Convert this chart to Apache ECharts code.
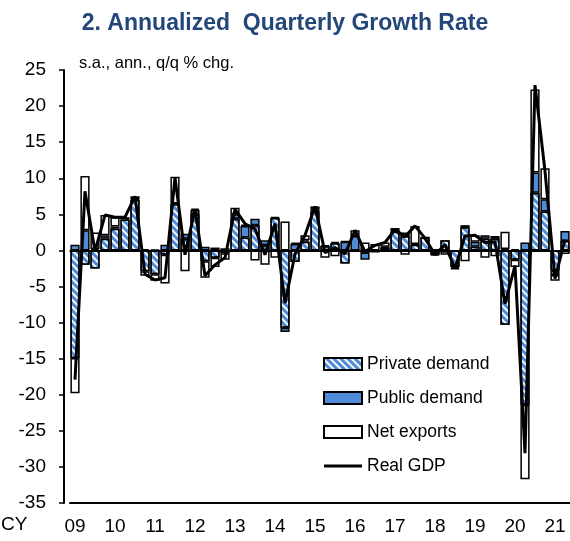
<!DOCTYPE html>
<html>
<head>
<meta charset="utf-8">
<script src="https://cdn.jsdelivr.net/npm/echarts@6/dist/echarts.min.js"></script>
<style>
  html, body { margin: 0; padding: 0; background: #fff; }
  #chart_div { width: 570px; height: 541px; }
</style>
</head>
<body>
<div id="chart_div"></div>
<script>
// ----------- 数据 -----------
var year_list = ['09', '10', '11', '12', '13', '14', '15', '16', '17', '18', '19', '20', '21']
var quarter_list = ['Q1', 'Q2', 'Q3', 'Q4']
// 2009Q1 ~ 2021Q2
var category_list = []
year_list.forEach(function (y) {
    quarter_list.forEach(function (q) {
        if (category_list.length < 50) category_list.push(y + q)
    })
})

// 民间需求
var private_demand = [
    -14.9, -2.0, -2.5, 1.6,
    3.0, 4.3, 7.0, -2.9,
    -3.3, -0.6, 6.4, 1.6,
    5.0, -1.5, -1.0, -0.4,
    4.4, 1.8, 3.5, 0.7,
    4.5, -10.7, -1.6, 1.2,
    5.4, 0.6, 1.0, -1.8,
    0.0, -0.3, -0.2, 0.4,
    2.6, 2.0, 0.8, 1.8,
    -0.6, 1.4, -2.3, 3.2,
    0.5, 1.6, 1.6, -10.3,
    -1.3, -21.4, 8.0, 5.4,
    -2.8, 1.3
]
// 公共需求
var public_demand = [
    0.8, 2.8, 0.2, 0.5,
    0.3, -0.1, 0.1, 0.2,
    0.1, 0.8, 0.1, 0.7,
    0.6, 0.5, 0.4, 0.3,
    0.6, 1.6, 0.9, 0.7,
    0.1, -0.6, 0.9, 0.2,
    0.3, 0.1, 0.2, 1.2,
    2.0, -1.0, 0.0, 0.1,
    0.1, 0.5, 0.1, 0.0,
    -0.1, -0.1, -0.2, 0.3,
    0.7, 0.5, 0.4, 0.2,
    0.2, 1.1, 2.8, 1.7,
    -0.6, 1.4
]
// 净出口
var net_exports = [
    -4.9, 7.5, 2.3, 2.8,
    1.3, 0.3, 0.4, -0.6,
    -0.9, -4.0, 3.7, -2.9,
    0.2, -2.3, -1.3, -0.9,
    0.9, 0.2, -1.4, -2.0,
    -1.0, 4.0, 0.2, 0.7,
    0.4, -1.0, -0.8, 0.1,
    0.8, 1.1, 0.9, 0.6,
    0.4, -0.6, 2.5, -0.1,
    0.2, -0.5, -0.1, -1.5,
    0.9, -1.0, -0.8, 2.4,
    -1.0, -10.3, 11.5, 4.3,
    -0.8, -0.5
]
// 实际GDP
var real_gdp = [
    -17.9, 8.2, -0.1, 4.9,
    4.6, 4.6, 7.5, -3.3,
    -4.1, -3.8, 10.1, -0.6,
    5.7, -3.5, -2.0, -1.0,
    5.7, 3.7, 3.0, -0.6,
    3.7, -7.3, -0.5, 2.1,
    6.1, -0.3, 0.4, -0.5,
    2.8, -0.2, 0.7, 1.1,
    2.9, 1.9, 3.4, 1.7,
    -0.6, 0.8, -2.5, 2.0,
    2.1, 1.1, 1.2, -7.4,
    -2.1, -28.1, 22.9, 11.0,
    -3.9, 1.5
]

// ----------- 样式 -----------
var font_name = '"Liberation Sans", Arial, sans-serif'
var bar_blue = '#4f8bd6'
var bar_border = { borderColor: '#000', borderWidth: 1.5 }

var chart = echarts.init(document.getElementById('chart_div'), null, { renderer: 'canvas' })

var option = {
    animation: false,
    backgroundColor: '#fff',
    title: [
        {
            text: '2. Annualized  Quarterly Growth Rate',
            left: 'center',
            top: 7,
            textStyle: { fontFamily: font_name, fontSize: 23, fontWeight: 'bold', color: '#24477a' }
        },
        {
            text: 's.a., ann., q/q % chg.',
            left: 74,
            top: 50,
            textStyle: { fontFamily: font_name, fontSize: 16.5, fontWeight: 'normal', color: '#000' }
        }
    ],
    graphic: [{
        type: 'text',
        left: 1,
        top: 515,
        style: { text: 'CY', fontFamily: font_name, fontSize: 19, fill: '#000' }
    }],
    legend: {
        orient: 'vertical',
        left: 318,
        top: 350,
        itemWidth: 38,
        itemHeight: 12,
        itemGap: 16,
        icon: 'rect',
        textStyle: { fontFamily: font_name, fontSize: 17.5, color: '#000' },
        data: [
            { name: 'Private demand', icon: 'rect' },
            { name: 'Public demand', icon: 'rect' },
            { name: 'Net exports', icon: 'rect' },
            { name: 'Real GDP', icon: 'path://M0,0 L38,0 L38,3 L0,3 Z', itemStyle: { color: '#000' } }
        ]
    },
    grid: { left: 70, top: 70, width: 507, height: 433 },
    xAxis: [
        {
            type: 'category',
            data: category_list,
            boundaryGap: true,
            axisLine: { onZero: false, lineStyle: { color: '#000', width: 2 } },
            axisTick: {
                inside: true,
                length: 6,
                lineStyle: { color: '#000', width: 1.5 },
                interval: function (index) { return index % 4 === 0 }
            },
            axisLabel: {
                interval: function (index) { return index % 4 === 0 },
                formatter: function (value) { return value.slice(0, 2) },
                margin: 14,
                fontFamily: font_name,
                fontSize: 19,
                color: '#000'
            },
            splitLine: { show: false }
        },
        {
            type: 'category',
            position: 'top',
            data: category_list,
            axisLine: { lineStyle: { color: '#000', width: 1.5 } },
            axisTick: { show: false },
            axisLabel: { show: false }
        }
    ],
    yAxis: {
        type: 'value',
        min: -35,
        max: 25,
        interval: 5,
        offset: 6,
        axisLine: { show: true, lineStyle: { color: '#000', width: 2 } },
        axisTick: { show: true, length: 5, lineStyle: { color: '#000', width: 1.5 } },
        axisLabel: { fontFamily: font_name, fontSize: 19, color: '#000', margin: 18 },
        splitLine: { show: false }
    },
    series: [
        {
            name: 'Private demand',
            type: 'bar',
            stack: 'gdp',
            barCategoryGap: '8%',
            data: private_demand,
            itemStyle: Object.assign({
                color: bar_blue,
                decal: {
                    symbol: 'rect',
                    color: 'rgba(255,255,255,0.95)',
                    dashArrayX: [1, 0],
                    dashArrayY: [2, 3],
                    rotation: Math.PI / 4
                }
            }, bar_border)
        },
        {
            name: 'Public demand',
            type: 'bar',
            stack: 'gdp',
            data: public_demand,
            itemStyle: Object.assign({ color: bar_blue }, bar_border)
        },
        {
            name: 'Net exports',
            type: 'bar',
            stack: 'gdp',
            data: net_exports,
            itemStyle: Object.assign({ color: '#fff' }, bar_border)
        },
        {
            name: 'Real GDP',
            type: 'line',
            data: real_gdp,
            symbol: 'none',
            z: 5,
            lineStyle: { color: '#000', width: 3 },
            itemStyle: { color: '#000' },
            markLine: {
                silent: true,
                symbol: 'none',
                label: { show: false },
                lineStyle: { color: '#000', width: 2, type: 'solid' },
                data: [{ yAxis: 0 }]
            }
        }
    ]
}

chart.setOption(option)
</script>
</body>
</html>
